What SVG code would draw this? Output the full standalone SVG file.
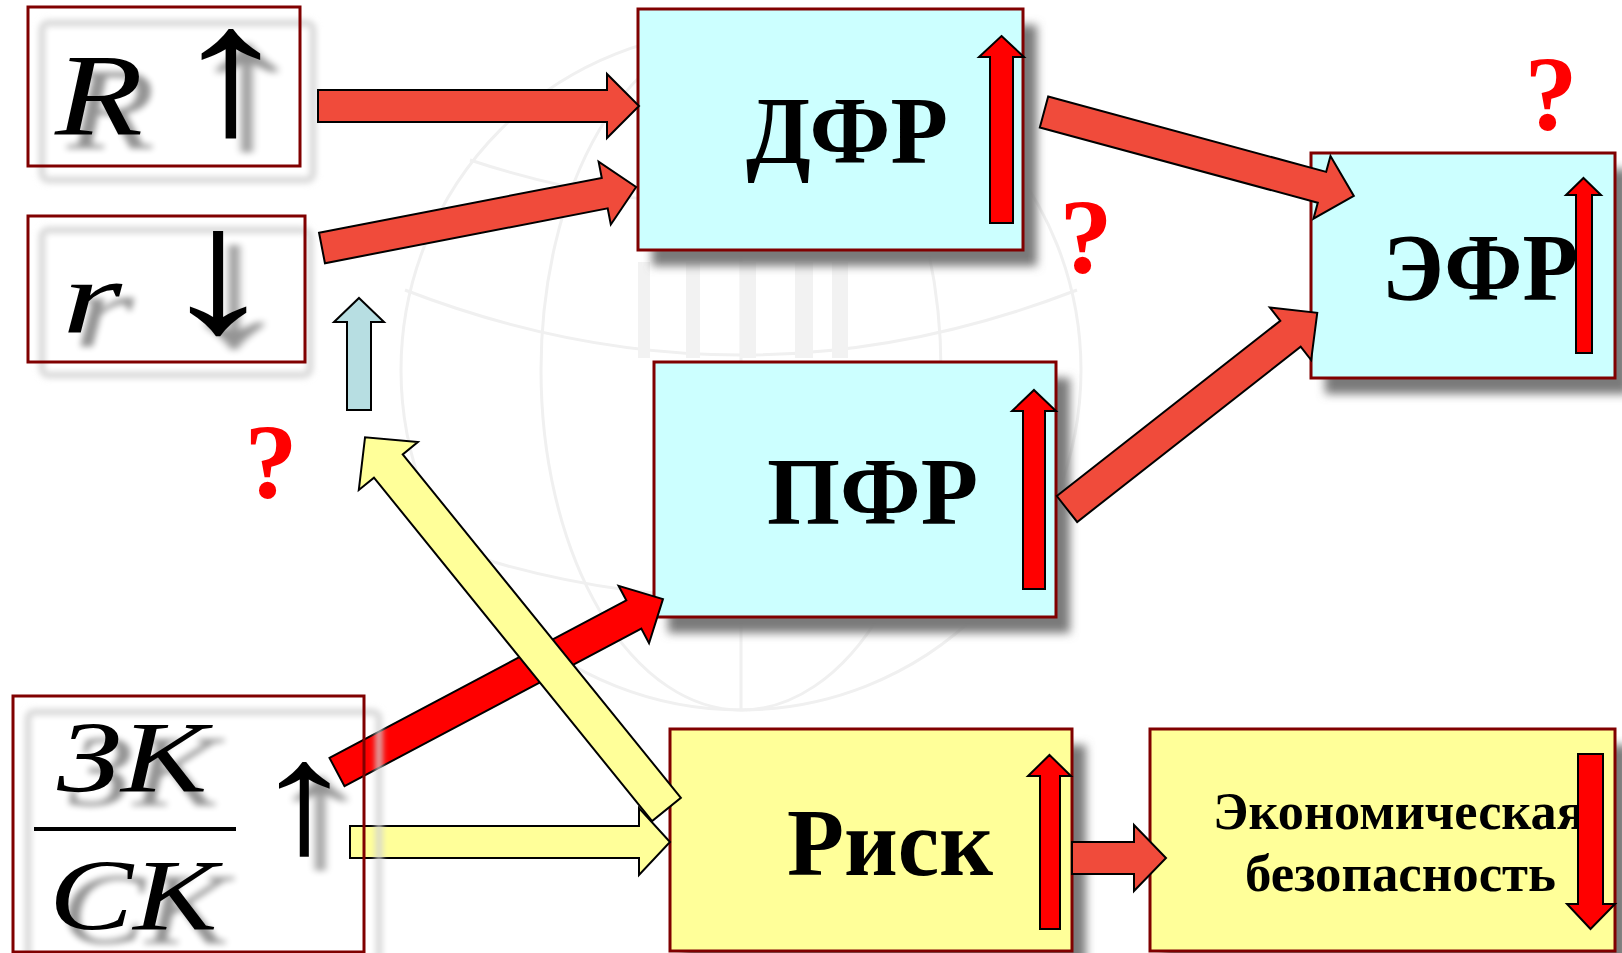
<svg xmlns="http://www.w3.org/2000/svg" width="1622" height="953" viewBox="0 0 1622 953">
<defs>
<style>
.box{stroke:#800000;stroke-width:3}
.cyan{fill:#CCFFFF}
.yel{fill:#FFFF99}
.shadow{fill:#7a7a7a;filter:url(#blur5)}
.frame{fill:none;stroke:#800000;stroke-width:3}
.ghost{fill:none;stroke:#d4d4d4;stroke-width:6;filter:url(#blur3)}
.lbl{font-family:"Liberation Serif","Times New Roman",serif;font-weight:bold;fill:#000;font-size:95px}
.math{font-family:"Liberation Serif","Times New Roman",serif;font-style:italic;fill:#000;filter:url(#ts)}
.sym{font-family:"Liberation Serif","Times New Roman",serif;fill:#000;text-anchor:middle;filter:url(#ts)}
.q{font-family:"Liberation Serif","Times New Roman",serif;font-weight:bold;fill:#FF0000;font-size:106px;text-anchor:middle}
.arr{stroke:#000;stroke-width:2;stroke-linejoin:miter}
.orange{fill:#F04B3B}
.red{fill:#FF0000}
.ylw{fill:#FFFF99}
.lblue{fill:#B7DEE2}
.globe{fill:none;stroke:#f0f0f0;stroke-width:3}
.bar{fill:#f2f2f2}
</style>
<filter id="blur5" x="-20%" y="-20%" width="140%" height="140%"><feGaussianBlur stdDeviation="5"/></filter>
<filter id="blur3" x="-20%" y="-20%" width="140%" height="140%"><feGaussianBlur stdDeviation="3"/></filter>
<filter id="ts" x="-30%" y="-30%" width="170%" height="170%">
<feGaussianBlur in="SourceAlpha" stdDeviation="3"/>
<feOffset dx="12" dy="14" result="o"/>
<feComponentTransfer in="o" result="s"><feFuncA type="linear" slope="0.42"/></feComponentTransfer>
<feMerge><feMergeNode in="s"/><feMergeNode in="SourceGraphic"/></feMerge>
</filter>
</defs>
<rect x="0" y="0" width="1622" height="953" fill="#FFFFFF"/>
<g id="watermark">
<circle cx="741" cy="370" r="340" fill="#fdfdfd" class="globe"/>
<ellipse cx="741" cy="370" rx="200" ry="340" class="globe"/>
<line x1="741" y1="30" x2="741" y2="710" class="globe"/>
<path d="M405,290 Q741,420 1077,290" class="globe"/>
<path d="M440,545 Q741,650 1042,545" class="globe"/>
<path d="M470,160 Q741,250 1012,160" class="globe"/>
<rect x="638" y="262" width="12" height="96" class="bar"/>
<rect x="686" y="262" width="14" height="96" class="bar"/>
<rect x="740" y="262" width="16" height="96" class="bar"/>
<rect x="795" y="262" width="18" height="96" class="bar"/>
<rect x="832" y="262" width="16" height="96" class="bar"/>
</g>
<g id="node-R">
<rect x="42" y="23" width="271" height="157" rx="6" class="ghost"/>
<text x="55" y="135" class="math" font-size="116" textLength="88" lengthAdjust="spacingAndGlyphs">R</text>
<text class="sym" font-size="185" transform="translate(231,133) scale(1.35,1)">↑</text>
<rect x="28" y="7" width="272" height="159" class="frame"/>
</g>
<g id="node-r">
<rect x="42" y="230" width="268" height="145" rx="6" class="ghost"/>
<text x="62" y="333" class="math" font-size="104" textLength="60" lengthAdjust="spacingAndGlyphs">r</text>
<text class="sym" font-size="178" transform="translate(218,331) scale(1.35,1)">↓</text>
<rect x="28" y="216" width="277" height="146" class="frame"/>
</g>
<g id="node-DFR">
<rect x="652" y="25" width="385" height="241" class="shadow"/>
<rect x="638" y="9" width="385" height="241" class="box cyan"/>
<text x="746" y="163" class="lbl" textLength="202" lengthAdjust="spacingAndGlyphs">ДФР</text>
<path d="M1001.5,36 L1024,57 L1013,57 L1013,223 L990,223 L990,57 L979,57 Z" class="arr red"/>
</g>
<g id="node-PFR">
<rect x="668" y="378" width="402" height="255" class="shadow"/>
<rect x="654" y="362" width="402" height="255" class="box cyan"/>
<text x="767" y="524" class="lbl" textLength="211" lengthAdjust="spacingAndGlyphs">ПФР</text>
<path d="M1034,390 L1056,411 L1045,411 L1045,589 L1023,589 L1023,411 L1012,411 Z" class="arr red"/>
</g>
<g id="node-EFR">
<rect x="1325" y="169" width="304" height="225" class="shadow"/>
<rect x="1311" y="153" width="304" height="225" class="box cyan"/>
<text x="1382" y="300" class="lbl" textLength="196" lengthAdjust="spacingAndGlyphs">ЭФР</text>
<path d="M1583.5,178 L1601,195 L1592,195 L1592,353 L1576,353 L1576,195 L1566,195 Z" class="arr red"/>
</g>
<g id="node-Risk">
<rect x="684" y="745" width="402" height="222" class="shadow"/>
<rect x="670" y="729" width="402" height="222" class="box yel"/>
<text x="787" y="875" class="lbl" textLength="206" lengthAdjust="spacingAndGlyphs">Риск</text>
<path d="M1049.5,755 L1071,776 L1060,776 L1060,929 L1040,929 L1040,776 L1028,776 Z" class="arr red"/>
</g>
<g id="node-Econ">
<rect x="1164" y="745" width="465" height="222" class="shadow"/>
<rect x="1150" y="729" width="465" height="222" class="box yel"/>
<text x="1213" y="829" class="lbl" style="font-size:52px" textLength="372" lengthAdjust="spacingAndGlyphs">Экономическая</text>
<text x="1245" y="891" class="lbl" style="font-size:52px" textLength="311" lengthAdjust="spacingAndGlyphs">безопасность</text>
<path d="M1578,754 H1603 V904 H1615 L1590.5,929 L1567,904 H1578 Z" class="arr red"/>
</g>
<g id="connectors">
<path d="M318,90 H607 V74 L639,106 L607,138 V122 H318 Z" class="arr orange"/>
<path transform="translate(322,248) rotate(-10.99)" d="M0,-15.5 H288 V-32 L320,0 L288,32 V15.5 H0 Z" class="arr orange"/>
<path transform="translate(1044,112) rotate(15.16)" d="M0,-16 H288 V-32.5 L321,0 L288,32.5 V16 H0 Z" class="arr orange"/>
<path transform="translate(1067,509) rotate(-38.1)" d="M0,-16.5 H284 V-33.5 L318,0 L284,33.5 V16.5 H0 Z" class="arr orange"/>
<path d="M359,298 L384,322 H371 V410 H347 V322 H334 Z" class="arr lblue"/>
<path d="M350,826 H639 V808 L670,842 L639,875 V858 H350 Z" class="arr ylw"/>
<path transform="translate(337,772) rotate(-27.95)" d="M0,-16 H336 V-32.5 L369,0 L336,32.5 V16 H0 Z" class="arr red"/>
<path transform="translate(666.5,809.5) rotate(-129)" d="M0,-18.5 H442 V-38 L479,0 L442,38 V18.5 H0 Z" class="arr ylw"/>
<path d="M1072,842 H1134 V825 L1166,858 L1134,891 V874 H1072 Z" class="arr orange"/>
</g>
<g id="node-ZK">
<rect x="28" y="712" width="351" height="250" rx="6" class="ghost"/>
<text x="57" y="792" class="math" font-size="101" textLength="150" lengthAdjust="spacingAndGlyphs">ЗК</text>
<rect x="34" y="827" width="202" height="4" fill="#000" filter="url(#ts)"/>
<text x="49" y="930" class="math" font-size="102" textLength="168" lengthAdjust="spacingAndGlyphs">СК</text>
<text class="sym" font-size="160" transform="translate(304,852) scale(1.35,1)">↑</text>
<rect x="13" y="696" width="351" height="256" class="frame"/>
</g>
<g id="questions">
<text x="271" y="498" class="q">?</text>
<text x="1086" y="273" class="q">?</text>
<text x="1551" y="130" class="q">?</text>
</g>
</svg>
